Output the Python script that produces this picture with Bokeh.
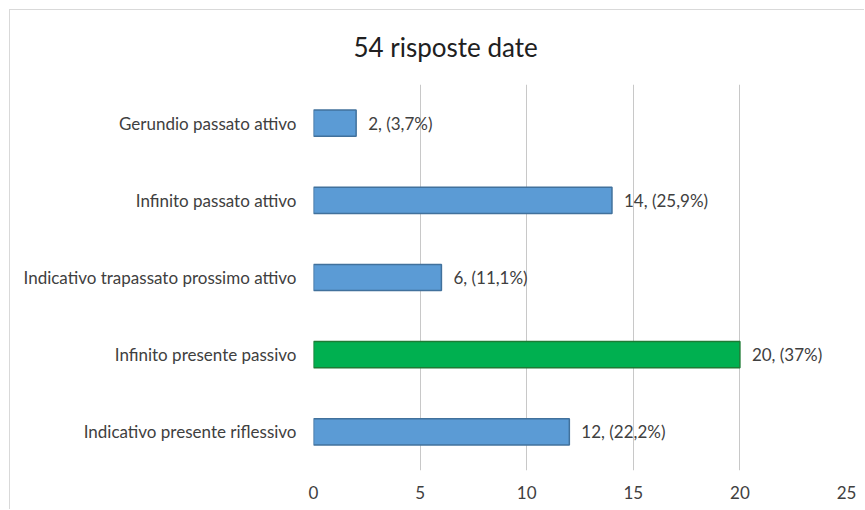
from bokeh.plotting import figure
from bokeh.models import ColumnDataSource, FactorRange, Range1d
from bokeh.core.properties import value
from bokeh.embed import file_html
from bokeh.resources import INLINE

title_text = "54 risposte date"
categories = [
    "Indicativo presente riflessivo",
    "Infinito presente passivo",
    "Indicativo trapassato prossimo attivo",
    "Infinito passato attivo",
    "Gerundio passato attivo",
]
counts = [12, 20, 6, 14, 2]
labels = ["12, (22,2%)", "20, (37%)", "6, (11,1%)", "14, (25,9%)", "2, (3,7%)"]
fills = ["#5B9BD5", "#00B050", "#5B9BD5", "#5B9BD5", "#5B9BD5"]
lines = ["#41719C", "#1E7B34", "#41719C", "#41719C", "#41719C"]
x_ticks = [0, 5, 10, 15, 20, 25]

FONT = "Lato"

src = ColumnDataSource(dict(cat=categories, val=counts, lab=labels, fill=fills, line=lines))

p = figure(
    width=855, height=500,
    y_range=FactorRange(*categories, range_padding=0),
    x_range=Range1d(0, 25),
    output_backend="svg", toolbar_location=None,
    min_border_left=303, min_border_right=19, min_border_top=74, min_border_bottom=40,
    title=title_text,
)
p.styles = {"margin-left": "9px", "margin-top": "9px",
            "border-left": "1px solid #d9d9d9", "border-top": "1px solid #d9d9d9"}

p.hbar(y="cat", right="val", left=0, height=0.34, source=src,
       fill_color="fill", line_color="line", line_width=1.5)
p.text(x="val", y="cat", text="lab", source=src, x_offset=12,
       text_font=value(FONT), text_font_size="17px", text_color="#404040",
       text_baseline="middle", text_align="left")

p.title.text_font = FONT
p.title.text_font_size = "26px"
p.title.text_font_style = "normal"
p.title.text_color = "#202020"
p.title.align = "left"
p.title.offset = 40
p.title.standoff = 39
p.title.vertical_align = "top"
p.title.text_line_height = 0.7

p.outline_line_color = None
p.ygrid.grid_line_color = None
p.xgrid.grid_line_color = "#c8c8c8"
p.xgrid.grid_line_width = 1
p.xaxis.ticker = x_ticks
p.xaxis.axis_line_color = None
p.xaxis.major_tick_line_color = None
p.xaxis.minor_tick_line_color = None
p.xaxis.major_tick_out = 0
p.xaxis.major_label_standoff = 15
p.xaxis.major_label_text_font = FONT
p.xaxis.major_label_text_font_size = "17px"
p.xaxis.major_label_text_color = "#404040"

p.yaxis.axis_line_color = None
p.yaxis.major_tick_line_color = None
p.yaxis.major_tick_out = 0
p.yaxis.major_label_standoff = 17
p.yaxis.major_label_text_font = FONT
p.yaxis.major_label_text_font_size = "17px"
p.yaxis.major_label_text_color = "#404040"

open("out.html", "w").write(file_html(p, INLINE))
